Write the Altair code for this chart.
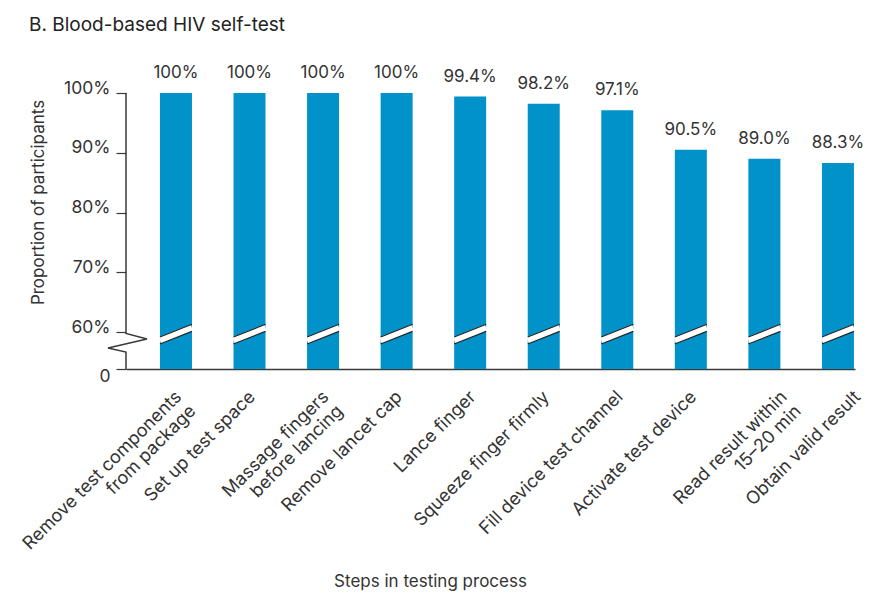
import altair as alt
import pandas as pd

# ---- data ----
STEPS = [
    "Remove test components|from package",
    "Set up test space",
    "Massage fingers|before lancing",
    "Remove lancet cap",
    "Lance finger",
    "Squeeze finger firmly",
    "Fill device test channel",
    "Activate test device",
    "Read result within|15–20 min",
    "Obtain valid result",
]
VALUES = [100, 100, 100, 100, 99.4, 98.2, 97.1, 90.5, 89.0, 88.3]
VALUE_LABELS = ["100%", "100%", "100%", "100%", "99.4%", "98.2%", "97.1%", "90.5%", "89.0%", "88.3%"]
Y_TICKS = [0, 60, 70, 80, 90, 100]

# axis-break decoration (y in data units, x in pixel offsets from the y axis)
ZIG_X = [0, 0, 21, -18, 0, 0]
ZIG_Y = [100, 57.6, 48.6, 34.0, 27.6, 0]
BREAK_UPPER = (51.9, 61.3)
BREAK_LOWER = (40.5, 60.1)
BREAK_MID = (46.2, 60.7)

W, H = 729, 276
FONT = "Inter"
TXT = "#333333"
BLUE = "#0092C8"

df = pd.DataFrame({"step": STEPS, "value": VALUES, "label": VALUE_LABELS})
zig = pd.DataFrame({"px": ZIG_X, "v": ZIG_Y, "o": list(range(len(ZIG_X)))})

yscale = alt.Scale(domain=[0, 60, 100], range=[H, 239, 0], nice=False)
xscale = alt.Scale(paddingInner=0.565, paddingOuter=0.238, align=0.97)

shift_test = "datum.value == '%s' || datum.value == '%s'" % (STEPS[9], STEPS[8])

xenc = alt.X(
    "step:N",
    sort=STEPS,
    scale=xscale,
    axis=alt.Axis(
        title="Steps in testing process",
        titleFont=FONT, titleFontSize=17, titleFontWeight="normal", titleColor=TXT,
        titleX=304, titleY=217, titleBaseline="alphabetic",
        labelExpr="split(datum.label, '|')",
        labelAngle=315, labelAlign="right", labelBaseline="middle",
        labelFont=FONT, labelFontSize=18, labelColor=TXT, labelLineHeight=20,
        labelPadding=25, labelOverlap=False, labelBound=False, labelLimit=400,
        labelOffset=alt.condition(shift_test, alt.value(20), alt.value(3)),
        ticks=False, domainColor="#3a3a3a", domainWidth=1.5, grid=False,
    ),
)

bars = alt.Chart(df).mark_bar(color=BLUE).encode(
    x=xenc,
    y=alt.Y(
        "value:Q",
        scale=yscale,
        axis=alt.Axis(
            values=Y_TICKS,
            title="Proportion of participants",
            titleFont=FONT, titleFontSize=17, titleFontWeight="normal", titleColor=TXT,
            titleX=-83, titleY=109, titleBaseline="alphabetic",
            labelExpr="datum.value == 0 ? '0' : datum.value + '%'",
            labelFont=FONT, labelFontSize=17.5, labelColor=TXT,
            labelBaseline="alphabetic",
            labelOffset=alt.condition("datum.value == 0", alt.value(12), alt.value(0)),
            labelPadding=6, tickSize=10, tickColor="#3a3a3a", tickWidth=1.2,
            domain=False, grid=False,
        ),
    ),
)

texts = alt.Chart(df).mark_text(
    font=FONT, fontSize=17, color=TXT, baseline="alphabetic", dy=-15
).encode(
    x=alt.X("step:N", sort=STEPS),
    y=alt.Y("value:Q"),
    text="label:N",
)

def brk(yl, yr, color, width):
    return alt.Chart(df).mark_rule(color=color, strokeWidth=width, strokeCap="butt").encode(
        x=alt.X("step:N", sort=STEPS, bandPosition=0),
        x2=alt.X2("step", bandPosition=1),
        y=alt.datum(yl),
        y2=alt.datum(yr),
    )

stripe = brk(BREAK_MID[0], BREAK_MID[1], "white", 7)
upper = brk(BREAK_UPPER[0], BREAK_UPPER[1], "#222222", 1.2)
lower = brk(BREAK_LOWER[0], BREAK_LOWER[1], "#222222", 1.2)

main = alt.layer(bars, texts, stripe, upper, lower)

zigline = alt.Chart(zig).mark_line(color="#3a3a3a", strokeWidth=1.5, clip=False).encode(
    x=alt.X("px:Q", scale=alt.Scale(domain=[0, W], nice=False, zero=False), axis=None),
    y=alt.Y("v:Q"),
    order="o:Q",
)

chart = alt.layer(main, zigline).resolve_scale(x="independent").properties(
    width=W,
    height=H,
    autosize=alt.AutoSizeParams(type="none"),
    padding={"left": 118, "top": 85, "right": 8, "bottom": 222},
    title=alt.TitleParams(
        "B. Blood-based HIV self-test",
        anchor="start", frame="group", font=FONT, fontSize=19, fontWeight="normal",
        color="#222222", dx=-97, dy=-25,
    ),
).configure_view(stroke=None)

chart.save("out.html", embed_options={"renderer": "svg", "actions": False})
